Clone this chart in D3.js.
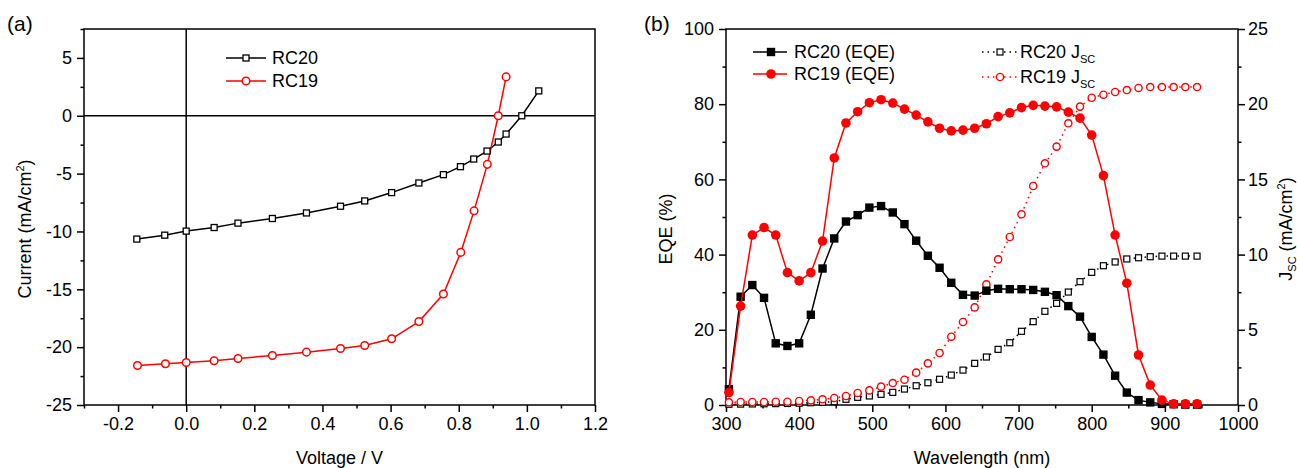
<!DOCTYPE html>
<html>
<head>
<meta charset="utf-8">
<script src="https://cdn.jsdelivr.net/npm/d3@7"></script>
<style>
  body { margin: 0; background: #fff; }
  svg text { font-family: "Liberation Sans", Arial, sans-serif; }
</style>
</head>
<body>
<svg id="chart" width="1297" height="468"></svg>
<script>
// ---- data (a) J-V curves
var voltage20 = [-0.145, -0.063, 0, 0.082, 0.152, 0.253, 0.353, 0.453, 0.524, 0.603, 0.683, 0.755, 0.805, 0.844, 0.883, 0.916, 0.939, 0.985, 1.035];
var current20 = [-10.66, -10.32, -9.97, -9.66, -9.28, -8.88, -8.40, -7.82, -7.36, -6.64, -5.81, -5.09, -4.40, -3.74, -3.05, -2.27, -1.58, 0, 2.15];
var voltage19 = [-0.143, -0.061, 0, 0.082, 0.152, 0.253, 0.353, 0.453, 0.524, 0.603, 0.683, 0.755, 0.806, 0.845, 0.884, 0.916, 0.939];
var current19 = [-21.59, -21.44, -21.32, -21.18, -20.98, -20.72, -20.43, -20.12, -19.86, -19.28, -17.79, -15.41, -11.81, -8.22, -4.20, 0, 3.36];

// ---- data (b) EQE and integrated Jsc
var wavelength = [304, 320, 336, 352, 368, 384, 400, 416, 432, 448, 464, 480, 496, 512, 528, 544, 560, 576, 592, 608,
  624, 640, 656, 672, 688, 704, 720, 736, 752, 768, 784, 800, 816, 832, 848, 864, 880, 896, 912, 928, 944];
var eqe20 = [4.2, 28.8, 31.9, 28.5, 16.4, 15.7, 16.4, 24.0, 36.3, 44.3, 48.8, 50.5, 52.5, 52.9, 51.2, 48.1, 43.7, 39.7, 36.5, 32.5,
  29.3, 29.1, 30.4, 30.9, 30.8, 30.8, 30.6, 30.1, 29.2, 26.3, 23.5, 18.1, 13.4, 7.8, 3.3, 1.3, 0.7, 0.3, 0.2, 0.1, 0.1];
var eqe19 = [3.3, 26.3, 45.2, 47.2, 45.2, 35.2, 33.0, 35.2, 43.6, 65.7, 75.0, 78.0, 80.4, 81.2, 80.3, 78.7, 77.1, 75.3, 73.6, 72.9,
  73.1, 73.6, 74.8, 76.7, 77.7, 79.1, 79.7, 79.5, 79.3, 77.9, 76.3, 71.8, 61.0, 45.2, 32.4, 13.3, 5.3, 1.3, 0.3, 0.3, 0.3];
var jsc20 = [0.05, 0.06, 0.07, 0.08, 0.09, 0.10, 0.12, 0.15, 0.18, 0.22, 0.38, 0.51, 0.60, 0.71, 0.84, 1.06, 1.28, 1.48, 1.71, 1.99,
  2.32, 2.77, 3.19, 3.70, 4.14, 4.90, 5.54, 6.23, 6.76, 7.51, 8.20, 8.82, 9.26, 9.51, 9.71, 9.79, 9.86, 9.90, 9.90, 9.90, 9.90];
var jsc19 = [0.18, 0.20, 0.20, 0.20, 0.22, 0.22, 0.27, 0.31, 0.38, 0.47, 0.60, 0.80, 0.97, 1.22, 1.46, 1.68, 2.15, 2.77, 3.46, 4.54,
  5.52, 6.49, 8.02, 9.68, 11.17, 12.68, 14.56, 16.07, 17.18, 18.73, 19.84, 20.43, 20.63, 20.81, 20.94, 21.08, 21.14, 21.14, 21.14, 21.14, 21.14];

// ticks
var vTicks = [-0.2, 0, 0.2, 0.4, 0.6, 0.8, 1.0, 1.2];
var vMinor = [-0.3, -0.1, 0.1, 0.3, 0.5, 0.7, 0.9, 1.1];
var iTicks = [-25, -20, -15, -10, -5, 0, 5];
var iMinor = [-22.5, -17.5, -12.5, -7.5, -2.5, 2.5, 7.5];
var wTicks = [300, 400, 500, 600, 700, 800, 900, 1000];
var wMinor = [350, 450, 550, 650, 750, 850, 950];
var eqeTicks = [0, 20, 40, 60, 80, 100];
var eqeMinor = [10, 30, 50, 70, 90];
var jscTicks = [0, 5, 10, 15, 20, 25];
var jscMinor = [2.5, 7.5, 12.5, 17.5, 22.5];

var FS = 18;
var RED = "#ff0000";

var svg = d3.select("#chart");

function styleAxis(g, fs) {
  g.attr("font-size", fs).attr("font-family", "Liberation Sans, Arial, sans-serif");
  g.selectAll("line").attr("stroke", "#000").attr("stroke-width", 1.5);
  g.selectAll("path.domain").attr("stroke", "#000").attr("stroke-width", 1.5);
  g.selectAll("text").attr("fill", "#000");
}

function addAxis(gen, pos, major, minor, fmt) {
  var g = svg.append("g").attr("transform", pos);
  g.call(gen.tickValues(minor).tickSize(3.5).tickFormat(""));
  g.select("path.domain").remove();
  styleAxis(g, FS);
  var g2 = svg.append("g").attr("transform", pos);
  g2.call(gen.tickValues(major).tickSize(7).tickFormat(fmt));
  g2.select("path.domain").remove();
  styleAxis(g2, FS);
  return g2;
}

// ================= panel (a)
var xa = d3.scaleLinear().domain([-0.3, 1.2]).range([84, 595]);
var ya = d3.scaleLinear().domain([-25, 7.5]).range([405, 29]);

svg.append("rect")
  .attr("x", xa(-0.3)).attr("y", ya(7.5))
  .attr("width", xa(1.2) - xa(-0.3)).attr("height", ya(-25) - ya(7.5))
  .attr("fill", "none").attr("stroke", "#000").attr("stroke-width", 1.5);

addAxis(d3.axisBottom(xa).tickPadding(5), "translate(0," + ya(-25) + ")", vTicks, vMinor, d => d.toFixed(1));
addAxis(d3.axisLeft(ya).tickPadding(5), "translate(" + xa(-0.3) + ",0)", iTicks, iMinor, d => String(d));

// zero lines
svg.append("line").attr("x1", xa(0)).attr("x2", xa(0)).attr("y1", ya(7.5)).attr("y2", ya(-25))
  .attr("stroke", "#000").attr("stroke-width", 1.5);
svg.append("line").attr("x1", xa(-0.3)).attr("x2", xa(1.2)).attr("y1", ya(0)).attr("y2", ya(0))
  .attr("stroke", "#000").attr("stroke-width", 1.5);

var jv20 = voltage20.map((v, i) => [v, current20[i]]);
var jv19 = voltage19.map((v, i) => [v, current19[i]]);
var lineA = d3.line().x(d => xa(d[0])).y(d => ya(d[1]));

svg.append("path").attr("d", lineA(jv20)).attr("fill", "none").attr("stroke", "#000").attr("stroke-width", 1.5);
svg.append("path").attr("d", lineA(jv19)).attr("fill", "none").attr("stroke", RED).attr("stroke-width", 1.5);

svg.append("g").selectAll("rect").data(jv20).enter().append("rect")
  .attr("x", d => xa(d[0]) - 3).attr("y", d => ya(d[1]) - 3)
  .attr("width", 6).attr("height", 6)
  .attr("fill", "#fff").attr("stroke", "#000").attr("stroke-width", 1.3);
svg.append("g").selectAll("circle").data(jv19).enter().append("circle")
  .attr("cx", d => xa(d[0])).attr("cy", d => ya(d[1])).attr("r", 3.8)
  .attr("fill", "#fff").attr("stroke", RED).attr("stroke-width", 1.5);

// legend (a)
var legA = svg.append("g");
legA.append("line").attr("x1", 226).attr("x2", 266).attr("y1", 58).attr("y2", 58).attr("stroke", "#000").attr("stroke-width", 1.5);
legA.append("rect").attr("x", 243).attr("y", 55).attr("width", 6).attr("height", 6)
  .attr("fill", "#fff").attr("stroke", "#000").attr("stroke-width", 1.3);
legA.append("text").attr("x", 272).attr("y", 64).attr("font-size", FS).text("RC20");
legA.append("line").attr("x1", 226).attr("x2", 266).attr("y1", 81).attr("y2", 81).attr("stroke", RED).attr("stroke-width", 1.5);
legA.append("circle").attr("cx", 246).attr("cy", 81).attr("r", 3.8)
  .attr("fill", "#fff").attr("stroke", RED).attr("stroke-width", 1.5);
legA.append("text").attr("x", 272).attr("y", 87).attr("font-size", FS).text("RC19");

// titles (a)
svg.append("text").attr("x", 7).attr("y", 31).attr("font-size", 21).text("(a)");
svg.append("text").attr("x", (xa(-0.3) + xa(1.2)) / 2).attr("y", 464)
  .attr("text-anchor", "middle").attr("font-size", FS).text("Voltage / V");
var ttA = svg.append("text").attr("transform", "translate(31,229) rotate(-90)")
  .attr("text-anchor", "middle").attr("font-size", FS);
ttA.append("tspan").text("Current (mA/cm");
ttA.append("tspan").attr("font-size", 11).attr("dy", -7).text("2");
ttA.append("tspan").attr("dy", 7).text(")");

// ================= panel (b)
var xb = d3.scaleLinear().domain([300, 1000]).range([726, 1238]);
var yb = d3.scaleLinear().domain([0, 100]).range([405, 29]);
var yj = d3.scaleLinear().domain([0, 25]).range([405, 29]);

svg.append("rect")
  .attr("x", xb(300)).attr("y", yb(100))
  .attr("width", xb(1000) - xb(300)).attr("height", yb(0) - yb(100))
  .attr("fill", "none").attr("stroke", "#000").attr("stroke-width", 1.5);

addAxis(d3.axisBottom(xb).tickPadding(5), "translate(0," + yb(0) + ")", wTicks, wMinor, d => String(d));
addAxis(d3.axisLeft(yb).tickPadding(5), "translate(" + xb(300) + ",0)", eqeTicks, eqeMinor, d => String(d));
addAxis(d3.axisRight(yj).tickPadding(3), "translate(" + xb(1000) + ",0)", jscTicks, jscMinor, d => String(d));

var eqeRows20 = wavelength.map((w, i) => [w, eqe20[i]]);
var eqeRows19 = wavelength.map((w, i) => [w, eqe19[i]]);
var jscRows20 = wavelength.map((w, i) => [w, jsc20[i]]);
var jscRows19 = wavelength.map((w, i) => [w, jsc19[i]]);

var lineEqe = d3.line().x(d => xb(d[0])).y(d => yb(d[1]));
var lineJsc = d3.line().x(d => xb(d[0])).y(d => yj(d[1]));

// Jsc curves (dotted, open markers)
svg.append("path").attr("d", lineJsc(jscRows20)).attr("fill", "none").attr("stroke", "#000")
  .attr("stroke-width", 1.5).attr("stroke-dasharray", "1.5,4");
svg.append("path").attr("d", lineJsc(jscRows19)).attr("fill", "none").attr("stroke", RED)
  .attr("stroke-width", 1.5).attr("stroke-dasharray", "1.5,4");
svg.append("g").selectAll("rect").data(jscRows20).enter().append("rect")
  .attr("x", d => xb(d[0]) - 3).attr("y", d => yj(d[1]) - 3)
  .attr("width", 6).attr("height", 6)
  .attr("fill", "#fff").attr("stroke", "#000").attr("stroke-width", 1.2);
svg.append("g").selectAll("circle").data(jscRows19).enter().append("circle")
  .attr("cx", d => xb(d[0])).attr("cy", d => yj(d[1])).attr("r", 3.6)
  .attr("fill", "#fff").attr("stroke", RED).attr("stroke-width", 1.4);

// EQE curves (solid, filled markers)
svg.append("path").attr("d", lineEqe(eqeRows20)).attr("fill", "none").attr("stroke", "#000").attr("stroke-width", 1.5);
svg.append("g").selectAll("rect").data(eqeRows20).enter().append("rect")
  .attr("x", d => xb(d[0]) - 4.2).attr("y", d => yb(d[1]) - 4.2)
  .attr("width", 8.4).attr("height", 8.4).attr("fill", "#000");
svg.append("path").attr("d", lineEqe(eqeRows19)).attr("fill", "none").attr("stroke", RED).attr("stroke-width", 1.5);
svg.append("g").selectAll("circle").data(eqeRows19).enter().append("circle")
  .attr("cx", d => xb(d[0])).attr("cy", d => yb(d[1])).attr("r", 4.8).attr("fill", RED);

// legend (b) EQE
var legB = svg.append("g");
legB.append("line").attr("x1", 753).attr("x2", 787).attr("y1", 52).attr("y2", 52).attr("stroke", "#000").attr("stroke-width", 1.5);
legB.append("rect").attr("x", 766.8).attr("y", 47.8).attr("width", 8.4).attr("height", 8.4).attr("fill", "#000");
legB.append("text").attr("x", 794).attr("y", 58).attr("font-size", FS).text("RC20 (EQE)");
legB.append("line").attr("x1", 753).attr("x2", 787).attr("y1", 74).attr("y2", 74).attr("stroke", RED).attr("stroke-width", 1.5);
legB.append("circle").attr("cx", 771).attr("cy", 74).attr("r", 4.8).attr("fill", RED);
legB.append("text").attr("x", 794).attr("y", 80).attr("font-size", FS).text("RC19 (EQE)");

// legend (b) Jsc
legB.append("line").attr("x1", 982).attr("x2", 1019).attr("y1", 52).attr("y2", 52).attr("stroke", "#000")
  .attr("stroke-width", 1.5).attr("stroke-dasharray", "1.5,4");
legB.append("rect").attr("x", 997).attr("y", 49).attr("width", 6).attr("height", 6)
  .attr("fill", "#fff").attr("stroke", "#000").attr("stroke-width", 1.2);
var t1 = legB.append("text").attr("x", 1020).attr("y", 58).attr("font-size", FS);
t1.append("tspan").text("RC20 J");
t1.append("tspan").attr("font-size", 11).attr("dy", 5).text("SC");
legB.append("line").attr("x1", 982).attr("x2", 1019).attr("y1", 77).attr("y2", 77).attr("stroke", RED)
  .attr("stroke-width", 1.5).attr("stroke-dasharray", "1.5,4");
legB.append("circle").attr("cx", 1000).attr("cy", 77).attr("r", 3.6)
  .attr("fill", "#fff").attr("stroke", RED).attr("stroke-width", 1.4);
var t2 = legB.append("text").attr("x", 1020).attr("y", 83).attr("font-size", FS);
t2.append("tspan").text("RC19 J");
t2.append("tspan").attr("font-size", 11).attr("dy", 5).text("SC");

// titles (b)
svg.append("text").attr("x", 644).attr("y", 31).attr("font-size", 21).text("(b)");
svg.append("text").attr("x", (xb(300) + xb(1000)) / 2).attr("y", 464)
  .attr("text-anchor", "middle").attr("font-size", FS).text("Wavelength (nm)");
svg.append("text").attr("transform", "translate(672,229) rotate(-90)")
  .attr("text-anchor", "middle").attr("font-size", FS).text("EQE (%)");
var ttB = svg.append("text").attr("transform", "translate(1292,229) rotate(-90)")
  .attr("text-anchor", "middle").attr("font-size", FS);
ttB.append("tspan").text("J");
ttB.append("tspan").attr("font-size", 11).attr("dy", 4).text("SC");
ttB.append("tspan").attr("dy", -4).text(" (mA/cm");
ttB.append("tspan").attr("font-size", 11).attr("dy", -7).text("2");
ttB.append("tspan").attr("dy", 7).text(")");
</script>
</body>
</html>
